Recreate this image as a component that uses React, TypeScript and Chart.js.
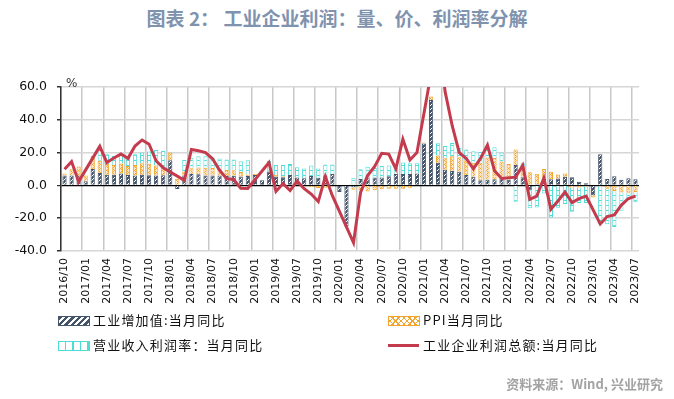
import React, { useEffect, useRef } from 'react';
import { Chart, registerables } from 'chart.js';

Chart.register(...registerables);

const months: string[] = [
  '2016/10', '2016/11', '2016/12',
  '2017/01', '2017/02', '2017/03', '2017/04', '2017/05', '2017/06', '2017/07', '2017/08', '2017/09', '2017/10', '2017/11', '2017/12',
  '2018/01', '2018/02', '2018/03', '2018/04', '2018/05', '2018/06', '2018/07', '2018/08', '2018/09', '2018/10', '2018/11', '2018/12',
  '2019/01', '2019/02', '2019/03', '2019/04', '2019/05', '2019/06', '2019/07', '2019/08', '2019/09', '2019/10', '2019/11', '2019/12',
  '2020/01', '2020/02', '2020/03', '2020/04', '2020/05', '2020/06', '2020/07', '2020/08', '2020/09', '2020/10', '2020/11', '2020/12',
  '2021/01', '2021/02', '2021/03', '2021/04', '2021/05', '2021/06', '2021/07', '2021/08', '2021/09', '2021/10', '2021/11', '2021/12',
  '2022/01', '2022/02', '2022/03', '2022/04', '2022/05', '2022/06', '2022/07', '2022/08', '2022/09', '2022/10', '2022/11', '2022/12',
  '2023/01', '2023/02', '2023/03', '2023/04', '2023/05', '2023/06', '2023/07',
];

// 工业增加值：当月同比
const ivaYoY: (number | null)[] = [
  6.0, 6.0, 6.0,
  2.5, 10.0, 7.5, 6.5, 6.5, 7.3, 6.3, 6.0, 6.5, 6.2, 6.1, 6.2,
  15.4, -2.2, 6.0, 7.0, 6.8, 6.0, 6.0, 6.1, 5.8, 5.9, 5.4, 5.7,
  6.3, 3.2, 8.5, 5.4, 5.0, 6.3, 4.8, 4.4, 5.8, 4.7, 6.2, 6.9,
  -4.0, -25.0, -1.1, 3.9, 4.4, 4.8, 4.8, 5.6, 6.9, 6.9, 7.0, 7.3,
  25.5, 52.0, 13.8, 9.5, 8.8, 8.3, 6.4, 5.3, 3.1, 3.5, 3.8, 4.3,
  3.5, 12.4, 5.0, -2.9, 0.7, 3.9, 3.8, 4.2, 5.3, 5.0, 2.2, 1.3,
  -6.0, 19.0, 3.9, 5.6, 3.5, 4.4, 3.7,
];

// PPI当月同比
const ppiYoY: (number | null)[] = [
  1.3, 3.8, 5.5,
  3.5, 8.0, 7.5, 6.5, 6.0, 6.0, 5.5, 6.5, 7.0, 7.0, 6.0, 5.0,
  4.6, 4.0, 2.5, 3.4, 4.1, 4.7, 4.6, 4.1, 3.6, 3.3, 2.7, 0.9,
  0.6, 0.0, 0.4, 0.9, 0.6, 0.0, -0.3, -0.8, -1.2, -1.6, -1.4, -0.5,
  0.0, -0.5, -1.5, -3.1, -3.7, -3.0, -2.4, -2.0, -2.1, -2.1, -1.5, -0.4,
  0.7, 2.2, 4.4, 7.0, 9.0, 8.8, 9.0, 8.5, 10.7, 13.5, 12.9, 10.3,
  9.5, 9.5, 6.5, 8.0, 6.4, 6.1, 4.5, 2.5, 2.0, -1.3, -1.3, -0.7,
  -1.4, -0.5, -2.0, -3.4, -4.4, -4.5, -4.0,
];

// 营业收入利润率：当月同比
const marginYoY: (number | null)[] = [
  0, 0, 0,
  0, 0, 8.5, 6.0, 5.5, 5.5, 5.0, 6.5, 6.5, 7.5, 9.5, 9.8,
  0, 0, 7.0, 6.4, 6.9, 7.0, 6.4, 6.2, 6.4, 6.6, 6.7, 8.8,
  0, 0, 6.0, 6.1, 6.8, 6.7, 6.2, 5.9, 6.4, 5.6, 6.6, 5.9,
  0, 0, 4.7, 6.0, 7.0, 5.8, 7.0, 6.5, 4.0, 7.0, 6.5, 6.2,
  0, 0, 7.5, 7.5, 8.0, 5.7, 6.5, 7.0, 6.5, 6.0, 6.5, 5.5,
  0, -10.0, 2.0, -11.0, -13.4, -4.9, -19.5, -13.6, -11.4, -14.7, -9.5, -10.0,
  0, -23.0, -21.7, -22.0, -11.1, -4.4, -6.2,
];

// 工业企业利润总额：当月同比
const profitYoY: (number | null)[] = [
  9.8, 14.5, 2.3,
  null, null, 23.8, 14.0, 16.7, 19.1, 16.5, 24.0, 27.7, 25.1, 14.9, 10.8,
  null, null, 3.1, 21.9, 21.1, 20.0, 16.2, 9.2, 4.1, 3.6, -1.8, -1.9,
  null, null, 13.9, -3.7, 1.1, -3.1, 2.6, -2.0, -5.3, -9.9, 5.4, -6.3,
  null, null, -34.9, -4.3, 6.0, 11.5, 19.6, 19.1, 10.1, 28.2, 15.5, 20.1,
  null, null, 92.3, 57.0, 36.4, 20.0, 16.4, 10.1, 16.3, 24.6, 9.0, 4.2,
  null, 5.0, 12.2, -8.5, -6.5, 4.5, -14.5, -9.5, -4.0, -10.5, -8.0, -6.5,
  null, -23.5, -19.0, -18.0, -12.0, -8.0, -6.5,
];

const yMin = -40;
const yMax = 60;
const yStep = 10;

const NAVY = '#44546a';
const ORANGE = '#f3a42c';
const CYAN = '#4edcd6';
const RED = '#c53b4e';

function makePattern(kind: 'navy' | 'orange' | 'cyan'): CanvasPattern | string {
  const c = document.createElement('canvas');
  const size = kind === 'cyan' ? 5 : kind === 'orange' ? 4 : 4;
  c.width = size;
  c.height = size;
  const g = c.getContext('2d');
  if (!g) return '#fff';
  if (kind === 'navy') {
    g.fillStyle = NAVY;
    g.fillRect(0, 0, size, size);
    g.strokeStyle = '#ffffff';
    g.lineWidth = 1;
    g.beginPath();
    g.moveTo(0, size); g.lineTo(size, 0);
    g.moveTo(-1, 1); g.lineTo(1, -1);
    g.moveTo(size - 1, size + 1); g.lineTo(size + 1, size - 1);
    g.stroke();
  } else if (kind === 'orange') {
    g.fillStyle = '#fde7c4';
    g.fillRect(0, 0, size, size);
    g.fillStyle = ORANGE;
    g.fillRect(0, 0, 1, 1);
    g.fillRect(2, 2, 1, 1);
    g.fillRect(1, 1, 1, 1);
    g.fillRect(3, 3, 1, 1);
    g.fillRect(3, 1, 1, 1);
    g.fillRect(1, 3, 1, 1);
  } else {
    g.fillStyle = '#ffffff';
    g.fillRect(0, 0, size, size);
    g.fillStyle = CYAN;
    g.fillRect(0, 0, size, 1);
  }
  const p = g.createPattern(c, 'repeat');
  return p || '#fff';
}

export default function App() {
  const ref = useRef<HTMLCanvasElement>(null);

  useEffect(() => {
    const canvas = ref.current;
    if (!canvas) return;
    const chart = new Chart(canvas, {
      type: 'bar',
      data: {
        labels: months,
        datasets: [
          {
            type: 'line',
            label: '工业企业利润总额:当月同比',
            data: profitYoY,
            borderColor: RED,
            backgroundColor: RED,
            borderWidth: 3,
            pointRadius: 0,
            tension: 0,
            spanGaps: true,
            order: 0,
            stack: 'profit',
          } as any,
          {
            type: 'bar',
            label: '工业增加值:当月同比',
            data: ivaYoY,
            backgroundColor: makePattern('navy'),
            borderColor: NAVY,
            borderWidth: 1,
            barPercentage: 0.6,
            categoryPercentage: 1,
            order: 1,
            stack: 'bars',
          },
          {
            type: 'bar',
            label: 'PPI当月同比',
            data: ppiYoY,
            backgroundColor: makePattern('orange'),
            borderColor: ORANGE,
            borderWidth: 1,
            barPercentage: 0.6,
            categoryPercentage: 1,
            order: 1,
            stack: 'bars',
          },
          {
            type: 'bar',
            label: '营业收入利润率：当月同比',
            data: marginYoY,
            backgroundColor: makePattern('cyan'),
            borderColor: CYAN,
            borderWidth: 1,
            barPercentage: 0.6,
            categoryPercentage: 1,
            order: 1,
            stack: 'bars',
          },
        ],
      },
      options: {
        responsive: false,
        animation: false,
        devicePixelRatio: 1,
        layout: { padding: { left: 0, top: 87, right: 35, bottom: 88 } },
        plugins: {
          legend: { display: false },
          tooltip: { enabled: false },
          title: { display: false },
        },
        scales: {
          x: {
            stacked: true,
            offset: true,
            border: { display: false },
            grid: {
              offset: true,
              drawTicks: false,
              color: (ctx: any) => (ctx.index % 3 === 0 ? '#c8c8c8' : 'rgba(0,0,0,0)'),
              lineWidth: 1.5,
            },
            ticks: {
              autoSkip: false,
              minRotation: 90,
              maxRotation: 90,
              padding: 7,
              color: '#111',
              font: { family: '"DejaVu Sans", sans-serif', size: 11 },
              callback: (_v: any, i: number) => (i % 3 === 0 ? months[i] : ''),
            },
            afterFit: (s: any) => {
              s.height = 60;
            },
          },
          y: {
            stacked: true,
            min: yMin,
            max: yMax,
            border: { display: true, color: '#333', width: 1.5 },
            grid: {
              color: (ctx: any) => (ctx.tick && ctx.tick.value === 0 ? '#000' : '#d6d6d6'),
              lineWidth: (ctx: any) => (ctx.tick && ctx.tick.value === 0 ? 1.2 : 1.5),
              drawTicks: true,
              tickLength: 4,
              tickColor: '#333',
            },
            ticks: {
              stepSize: yStep,
              padding: 10,
              color: '#111',
              font: { family: '"DejaVu Sans", sans-serif', size: 12.5 },
              callback: (v: any) => Number(v).toFixed(1),
            },
            afterFit: (s: any) => {
              s.width = 61;
            },
          },
        },
      },
    });
    return () => chart.destroy();
  }, []);

  const legendText: React.CSSProperties = {
    position: 'absolute',
    fontSize: 13,
    letterSpacing: 1.2,
    color: '#111',
    lineHeight: '16px',
    whiteSpace: 'nowrap',
  };

  return (
    <div
      style={{
        position: 'fixed',
        left: 0,
        top: 0,
        width: 674,
        height: 399,
        background: '#fff',
        overflow: 'hidden',
        fontFamily: '"Noto Sans CJK SC", "Noto Sans", sans-serif',
      }}
    >
      <div
        style={{
          position: 'absolute',
          left: 0,
          top: 4,
          width: 674,
          textAlign: 'center',
          fontSize: 19,
          lineHeight: '28px',
          fontWeight: 700,
          color: '#7f93ae',
          whiteSpace: 'nowrap',
        }}
      >
        图表 2： 工业企业利润：量、价、利润率分解
      </div>
      <canvas
        ref={ref}
        width={674}
        height={399}
        style={{ position: 'absolute', left: 0, top: 0, width: 674, height: 399 }}
      />
      <span style={{ position: 'absolute', left: 66, top: 76, fontSize: 12, color: '#333', fontFamily: '"DejaVu Sans", sans-serif' }}>%</span>

      {/* legend row 1 */}
      <div
        style={{
          position: 'absolute', left: 58, top: 316, width: 30, height: 8,
          border: `1px solid ${NAVY}`,
          background: `repeating-linear-gradient(135deg, ${NAVY} 0px, ${NAVY} 2.5px, #fff 2.5px, #fff 4.5px)`,
        }}
      />
      <span style={{ ...legendText, left: 93, top: 312 }}>工业增加值:当月同比</span>
      <div
        style={{
          position: 'absolute', left: 388, top: 316, width: 30, height: 8,
          border: `1px solid ${ORANGE}`,
          background: `repeating-linear-gradient(45deg, rgba(0,0,0,0) 0px, rgba(0,0,0,0) 3px, ${ORANGE} 3px, ${ORANGE} 4px), repeating-linear-gradient(135deg, #fff 0px, #fff 3px, ${ORANGE} 3px, ${ORANGE} 4px)`,
        }}
      />
      <span style={{ ...legendText, left: 423, top: 312 }}>PPI当月同比</span>

      {/* legend row 2 */}
      <div
        style={{
          position: 'absolute', left: 58, top: 341, width: 30, height: 8,
          border: `1px solid ${CYAN}`,
          background: `repeating-linear-gradient(90deg, #fff 0px, #fff 6px, ${CYAN} 6px, ${CYAN} 7.5px)`,
        }}
      />
      <span style={{ ...legendText, left: 93, top: 337 }}>营业收入利润率：当月同比</span>
      <div style={{ position: 'absolute', left: 388, top: 344, width: 31, height: 3, background: RED }} />
      <span style={{ ...legendText, left: 423, top: 337 }}>工业企业利润总额:当月同比</span>

      <div
        style={{
          position: 'absolute',
          right: 11,
          top: 374,
          fontSize: 13,
          fontWeight: 700,
          color: '#a3a3a3',
          whiteSpace: 'nowrap',
        }}
      >
        资料来源：Wind, 兴业研究
      </div>
    </div>
  );
}
